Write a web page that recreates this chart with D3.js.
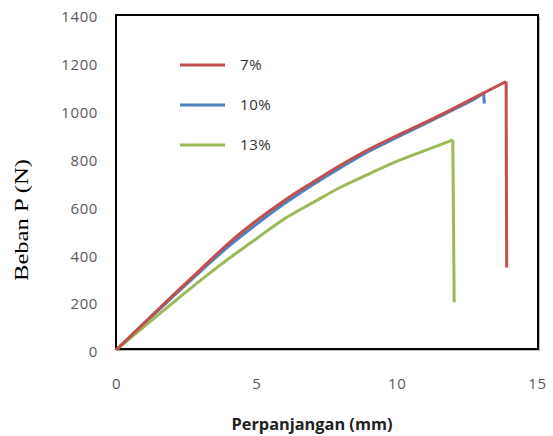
<!DOCTYPE html>
<html>
<head>
<meta charset="utf-8">
<script src="https://cdn.jsdelivr.net/npm/d3@7"></script>
<style>
  body { margin: 0; background: #fff; }
  svg { display: block; }
</style>
</head>
<body>
<svg id="chart" width="553" height="436"></svg>
<script>
// data (x = mm, y = N)
const seriesNames = ['7%', '10%', '13%'];
const seriesColors = ['#C0504D', '#4F81BD', '#9BBB59'];

const red7 = [
  [0, 0], [1, 112], [2, 225], [3, 335], [4, 445], [5, 540], [6, 625], [7, 700],
  [8, 772], [9, 838], [10, 895], [11, 950], [12, 1008], [13, 1068], [13.9, 1122], [13.92, 345]
];
const blue10 = [
  [0, 0], [1, 110], [2, 220], [3, 328], [4, 432], [5, 525], [6, 612], [7, 690],
  [8, 762], [9, 830], [10, 888], [11, 945], [12, 1003], [13, 1066], [13.1, 1075], [13.12, 1030]
];
const green13 = [
  [0, 0], [1, 98], [2, 195], [3, 290], [4, 380], [5, 465], [6, 548], [7, 615],
  [8, 680], [9, 735], [10, 788], [11, 833], [12, 878], [12.05, 200]
];

const xTicks = [0, 5, 10, 15];
const yTicks = [0, 200, 400, 600, 800, 1000, 1200, 1400];

const svg = d3.select('#chart');

const plot = { left: 116, top: 15, right: 538, bottom: 349 };

const x = d3.scaleLinear().domain([0, 15]).range([plot.left, plot.right - 1]);
const y = d3.scaleLinear().domain([0, 1400]).range([plot.bottom + 1, plot.top]);

// shadow + frame
svg.append('rect')
  .attr('x', plot.left + 2).attr('y', plot.top + 2)
  .attr('width', plot.right - plot.left).attr('height', plot.bottom - plot.top)
  .attr('fill', '#bbb');
svg.append('rect')
  .attr('x', plot.left).attr('y', plot.top)
  .attr('width', plot.right - plot.left).attr('height', plot.bottom - plot.top)
  .attr('fill', '#fff')
  .attr('stroke', '#000')
  .attr('stroke-width', 2);

// axes (labels only, no tick marks)
const yAxis = d3.axisLeft(y).tickValues(yTicks).tickFormat(d3.format('d')).tickSize(0).tickPadding(0);
svg.append('g')
  .attr('transform', 'translate(98,2)')
  .call(yAxis)
  .call(g => g.select('.domain').remove())
  .selectAll('text')
  .attr('font-family', 'Open Sans, sans-serif')
  .attr('font-size', 15)
  .attr('letter-spacing', 0.6)
  .attr('fill', '#595959');

const xAxis = d3.axisBottom(x).tickValues(xTicks).tickSize(0).tickPadding(0);
svg.append('g')
  .attr('transform', 'translate(0,378)')
  .call(xAxis)
  .call(g => g.select('.domain').remove())
  .selectAll('text')
  .attr('font-family', 'Open Sans, sans-serif')
  .attr('font-size', 15)
  .attr('letter-spacing', 0.6)
  .attr('fill', '#595959');

// lines: smooth loading part, straight drop at break
const smooth = d3.line().curve(d3.curveMonotoneX).x(d => x(d[0])).y(d => y(d[1]));
const straight = d3.line().x(d => x(d[0])).y(d => y(d[1]));
const allSeries = [blue10, green13, red7];
const allColors = [seriesColors[1], seriesColors[2], seriesColors[0]];

const lines = svg.append('g')
  .selectAll('g')
  .data(allSeries)
  .enter()
  .append('g')
  .attr('fill', 'none')
  .attr('stroke', (d, i) => allColors[i])
  .attr('stroke-width', 3)
  .attr('stroke-linejoin', 'round');

lines.append('path')
  .attr('d', d => smooth(d.slice(0, -1)));
lines.append('path')
  .attr('d', d => straight(d.slice(-2)));

// legend
const legend = svg.append('g').attr('transform', 'translate(180,65)');
const item = legend.selectAll('g')
  .data(seriesNames)
  .enter()
  .append('g')
  .attr('transform', (d, i) => `translate(0,${i * 40})`);
item.append('line')
  .attr('x1', 0).attr('x2', 45)
  .attr('stroke', (d, i) => seriesColors[i])
  .attr('stroke-width', 3);
item.append('text')
  .attr('x', 60)
  .attr('dy', '0.35em')
  .attr('font-family', 'Open Sans, sans-serif')
  .attr('font-size', 15)
  .attr('letter-spacing', 0.6)
  .attr('fill', '#333')
  .text(d => d);

// axis titles
svg.append('text')
  .attr('x', 312).attr('y', 430)
  .attr('text-anchor', 'middle')
  .attr('font-family', 'Open Sans, sans-serif')
  .attr('font-weight', 'bold')
  .attr('font-size', 16)
  .attr('textLength', 161)
  .attr('lengthAdjust', 'spacingAndGlyphs')
  .attr('fill', '#222')
  .text('Perpanjangan (mm)');

svg.append('text')
  .attr('transform', 'translate(28,220) rotate(-90)')
  .attr('text-anchor', 'middle')
  .attr('font-family', 'Liberation Serif, serif')
  .attr('font-size', 18)
  .attr('textLength', 122)
  .attr('lengthAdjust', 'spacingAndGlyphs')
  .attr('fill', '#000')
  .text('Beban P (N)');
</script>
</body>
</html>
